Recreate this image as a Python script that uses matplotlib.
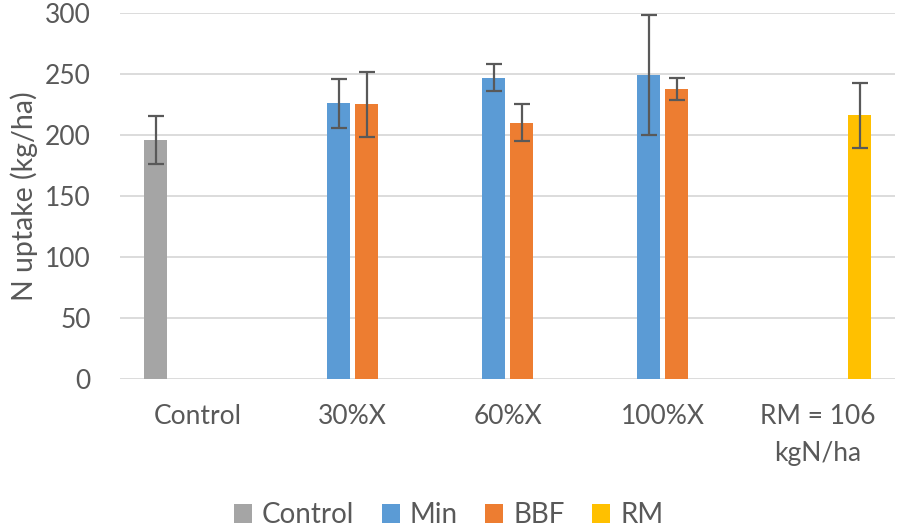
import numpy as np
import matplotlib.pyplot as plt

plt.rcParams['font.family'] = ['Lato', 'DejaVu Sans']

# Data
categories = ['Control', '30%X', '60%X', '100%X', 'RM = 106\nkgN/ha']
series = ['Control', 'Min', 'BBF', 'RM']
nan = np.nan
values = {
    'Control': [196, nan, nan, nan, nan],
    'Min':     [nan, 226, 247, 249, nan],
    'BBF':     [nan, 225, 210, 238, nan],
    'RM':      [nan, nan, nan, nan, 216],
}
errors = {
    'Control': [19.5, nan, nan, nan, nan],
    'Min':     [nan, 20, 11, 49, nan],
    'BBF':     [nan, 27, 15, 9, nan],
    'RM':      [nan, nan, nan, nan, 27],
}
colors = {'Control': '#A5A5A5', 'Min': '#5B9BD5', 'BBF': '#ED7D31', 'RM': '#FFC000'}

text_color = '#595959'

fig = plt.figure(figsize=(8.97, 5.30), dpi=100)
ax = fig.add_axes([0.1338, 0.2849, 0.864, 0.6906])

x = np.arange(len(categories))
slot = 0.1806
bar_w = 0.148
for i, name in enumerate(series):
    v = np.array(values[name], dtype=float)
    e = np.array(errors[name], dtype=float)
    mask = ~np.isnan(v)
    pos = x[mask] + (i - 1.5) * slot
    ax.bar(pos, v[mask], width=bar_w, color=colors[name], label=name, zorder=3)
    ax.errorbar(pos, v[mask], yerr=e[mask], fmt='none', ecolor=text_color,
                elinewidth=1.6, capsize=6, capthick=1.6, zorder=4)

ax.set_xlim(-0.5, len(categories) - 0.5)
ax.set_ylim(0, 300)
ax.set_yticks(np.arange(0, 301, 50))
ax.set_xticks(x)
ax.set_xticklabels(categories, linespacing=1.6)
ax.tick_params(axis='y', length=0, pad=21, labelsize=19, labelcolor=text_color)
ax.tick_params(axis='x', length=0, pad=18, labelsize=19, labelcolor=text_color)
ax.grid(axis='y', color='#D9D9D9', linewidth=1.3, zorder=0)
for s in ax.spines.values():
    s.set_visible(False)

ax.set_ylabel('N uptake (kg/ha)', fontsize=20.5, color=text_color, labelpad=5)

fig.legend(loc='lower center', bbox_to_anchor=(0.5, -0.044), ncol=4, frameon=False,
           fontsize=20, labelcolor=text_color, handlelength=0.65, handleheight=0.65,
           handletextpad=0.35, columnspacing=1.0)

fig.savefig('out.png', dpi=100)
